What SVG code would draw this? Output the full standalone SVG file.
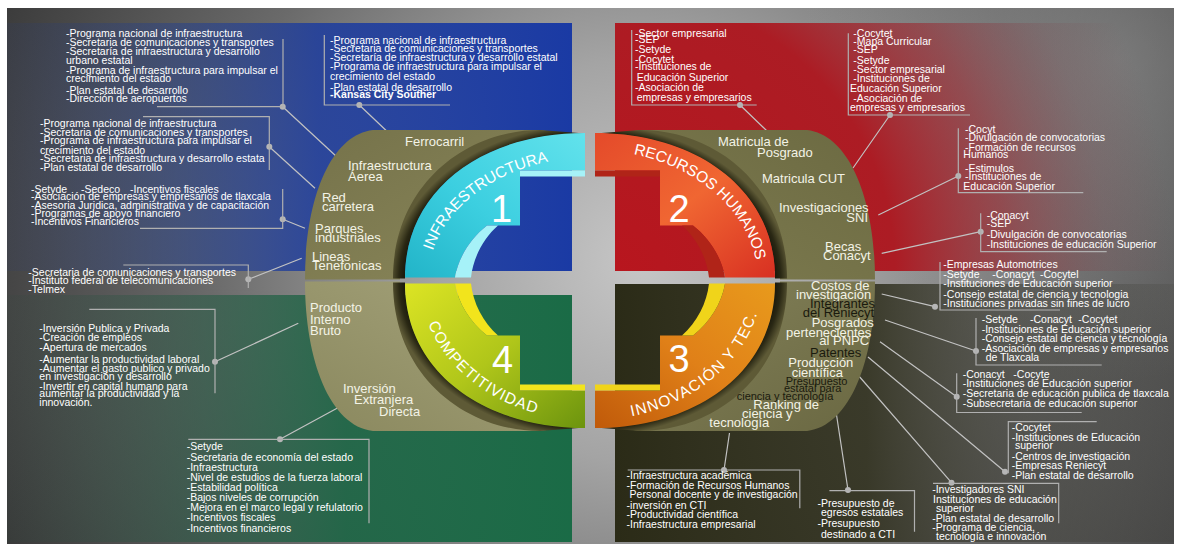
<svg xmlns="http://www.w3.org/2000/svg" width="1180" height="548" viewBox="0 0 1180 548">
<defs>
<style>
.t{font-family:"Liberation Sans",Arial,sans-serif;font-size:10.5px;fill:#fff}
.lb{font-family:"Liberation Sans",Arial,sans-serif;font-size:13px;fill:#f3f3e6}
.dk{fill:#1a1a0e}
.sm{font-size:11px}
.arc{font-family:"Liberation Sans",Arial,sans-serif;font-size:15.5px;fill:#fff}
.num{font-family:"Liberation Sans",Arial,sans-serif;font-size:38px;fill:#fff;text-anchor:middle}
.br{fill:none;stroke:#b0b0b0;stroke-width:1.2}
.cn{fill:none;stroke:#c2c2c2;stroke-width:1.2}
.dot{fill:#b6b6b6}
</style>
<radialGradient id="bg" gradientUnits="userSpaceOnUse" cx="640" cy="260" r="720">
<stop offset="0" stop-color="#c6c6c6"/><stop offset="0.28" stop-color="#a4a4a4"/><stop offset="0.6" stop-color="#6a6a6a"/><stop offset="1" stop-color="#353535"/>
</radialGradient>
<radialGradient id="bgTR" gradientUnits="userSpaceOnUse" cx="1120" cy="60" r="320">
<stop offset="0" stop-color="#a0a0a0" stop-opacity="0.45"/><stop offset="1" stop-color="#a0a0a0" stop-opacity="0"/>
</radialGradient>
<linearGradient id="blueP" x1="0" y1="0" x2="1" y2="0">
<stop offset="0" stop-color="#2a3c70" stop-opacity="0.15"/><stop offset="0.3" stop-color="#24408e" stop-opacity="0.5"/><stop offset="0.55" stop-color="#1d3c9e" stop-opacity="0.85"/><stop offset="1" stop-color="#1a3aa4"/>
</linearGradient>
<radialGradient id="redP" gradientUnits="userSpaceOnUse" cx="615" cy="271" r="560">
<stop offset="0" stop-color="#b8161e"/><stop offset="0.5" stop-color="#ac1c24"/><stop offset="0.7" stop-color="#9a2a32" stop-opacity="0.62"/><stop offset="0.88" stop-color="#804048" stop-opacity="0.2"/><stop offset="1" stop-color="#804048" stop-opacity="0"/>
</radialGradient>
<linearGradient id="greenP" x1="0" y1="0" x2="1" y2="0">
<stop offset="0" stop-color="#2a4a3c" stop-opacity="0.1"/><stop offset="0.35" stop-color="#1e5a40" stop-opacity="0.5"/><stop offset="0.6" stop-color="#1b6544" stop-opacity="0.9"/><stop offset="1" stop-color="#1a6b46"/>
</linearGradient>
<linearGradient id="darkP" x1="0" y1="0" x2="1" y2="0">
<stop offset="0" stop-color="#2b2b17"/><stop offset="0.45" stop-color="#30301e" stop-opacity="0.9"/><stop offset="0.75" stop-color="#383830" stop-opacity="0.45"/><stop offset="1" stop-color="#383830" stop-opacity="0.15"/>
</linearGradient>
<linearGradient id="olUL" x1="0" y1="0" x2="1" y2="1"><stop offset="0" stop-color="#75724a"/><stop offset="1" stop-color="#8a875a"/></linearGradient>
<linearGradient id="olLL" x1="0" y1="0" x2="1" y2="1"><stop offset="0" stop-color="#8a885e"/><stop offset="1" stop-color="#a6a47c"/></linearGradient>
<linearGradient id="olUR" x1="0" y1="0" x2="1" y2="1"><stop offset="0" stop-color="#6c6a42"/><stop offset="1" stop-color="#7e7c50"/></linearGradient>
<linearGradient id="olLR" x1="0" y1="0" x2="1" y2="1"><stop offset="0" stop-color="#6a6842"/><stop offset="1" stop-color="#84825a"/></linearGradient>
<radialGradient id="ring" gradientUnits="userSpaceOnUse" cx="0" cy="0" r="200" gradientTransform="scale(1,0.78)">
<stop offset="0" stop-color="#000"/><stop offset="0.9" stop-color="#0c0c05"/><stop offset="0.955" stop-color="#2a2814"/><stop offset="1" stop-color="#5e5a36"/>
</radialGradient>
<linearGradient id="ribCyan" x1="0" y1="1" x2="1" y2="0"><stop offset="0" stop-color="#22b4c8"/><stop offset="0.45" stop-color="#3ccfe0"/><stop offset="1" stop-color="#62e2ec"/></linearGradient>
<linearGradient id="ribRed" x1="0" y1="1" x2="1" y2="0"><stop offset="0" stop-color="#d83022"/><stop offset="0.5" stop-color="#f06632"/><stop offset="1" stop-color="#e44a2a"/></linearGradient>
<linearGradient id="ribOrange" x1="0" y1="1" x2="1" y2="0"><stop offset="0" stop-color="#e89a1c"/><stop offset="0.5" stop-color="#e08018"/><stop offset="1" stop-color="#c05a0a"/></linearGradient>
<linearGradient id="ribLime" x1="0" y1="1" x2="1" y2="0"><stop offset="0" stop-color="#dce424"/><stop offset="0.5" stop-color="#b0c61a"/><stop offset="1" stop-color="#6c940e"/></linearGradient>
<!-- one quarter of the wheel, drawn around the centre (0,0) -->
<path id="olive" d="M-50,-150.5 L-217,-150.5 C-260,-145.5 -285,-80 -285,-1 L-190,-1 C-190,-90 -120,-149 -40,-149 Z"/>
<path id="crescent" d="M-197,-2 C-197,-95 -125,-150.5 -50,-150.5 L-5,-147 C-108,-147 -185,-90 -185,-2 Z"/>
<path id="face" d="M-185,-3 C-185,-90 -108,-147.5 -5,-147.5 L-5,-110 L-70,-110 L-70,-55 L-103,-55 C-120,-42 -132,-22 -135,-3 Z"/>
<path id="bevel" d="M-135,-3 C-132,-22 -120,-42 -103,-55 L-92,-55 C-107,-42 -117,-22 -119,-3 Z M-70,-110 H-5 V-104 H-70 Z"/>
<path id="pInfra" d="M432.8,250.7 A162,123 0 0 1 584.3,157.6"/>
<path id="pRecursos" d="M633.5,154 A168,131 0 0 1 758,280.5"/>
<path id="pCompet" d="M428.3,323.8 A170,140 0 0 0 590,420.5"/>
<path id="pInnov" d="M631.6,416.3 A172,140 0 0 0 762,280.5"/>
</defs>

<!-- backdrop -->
<g id="backdrop">
<rect width="1180" height="548" fill="url(#bg)"/>
<rect width="1180" height="548" fill="url(#bgTR)"/>
<rect x="7" y="23" width="565" height="248" fill="url(#blueP)"/>
<rect x="615" y="23" width="559" height="248" fill="url(#redP)"/>
<rect x="7" y="295" width="565" height="247" fill="url(#greenP)"/>
<rect x="615" y="284" width="559" height="258" fill="url(#darkP)"/>
<path d="M0,0H1180V8H0Z M0,0H7V548H0Z M0,544H1180V548H0Z M1174,0H1180V548H1174Z" fill="#fff"/>
</g>

<!-- connectors: lines from each list to its label on the wheel -->
<g id="connectors">
<path class="cn" d="M282.7,106.7L337,157 M359.3,105L393,137 M269.3,146.7L315,188.3 M282.7,219.3L305,228.3 M248.3,279.3L301.7,258.3 M215,361.7L298.3,323.3 M280,439.3L343,405 M740,105L767,131 M890,115L853,168 M958.3,176L878.3,215 M980.7,231.7L881.7,253.3 M935,306.7L881.7,294 M976,351L885,320 M956.7,396.7L880,341.7 M1005,471.7L868,357 M951.5,482.7L858,375 M848,490L835,405 M724,470L729.5,433"/>
<g class="dot">
<circle cx="282.7" cy="106.7" r="3"/><circle cx="359.3" cy="105" r="3"/><circle cx="269.3" cy="146.7" r="3"/><circle cx="282.7" cy="219.3" r="3"/><circle cx="248.3" cy="279.3" r="3"/><circle cx="215" cy="361.7" r="3"/><circle cx="280" cy="439.3" r="3"/><circle cx="740" cy="105" r="3"/><circle cx="890" cy="115" r="3"/><circle cx="958.3" cy="176" r="3"/><circle cx="980.7" cy="231.7" r="3"/><circle cx="935" cy="306.7" r="3"/><circle cx="976" cy="351" r="3"/><circle cx="956.7" cy="396.7" r="3"/><circle cx="1005" cy="471.7" r="3"/><circle cx="951.5" cy="482.7" r="3"/><circle cx="848" cy="490" r="3"/><circle cx="724" cy="470" r="3"/>
</g>
</g>

<!-- wheel -->
<g id="wheel">
<use href="#olive" fill="url(#olUL)" transform="translate(590,280.5)"/>
<use href="#olive" fill="url(#olLL)" transform="translate(590,280.5) scale(1,-1)"/>
<use href="#olive" fill="url(#olUR)" transform="translate(590,280.5) scale(-1,1)"/>
<use href="#olive" fill="url(#olLR)" transform="translate(590,280.5) scale(-1,-1)"/>
<use href="#crescent" fill="url(#ring)" transform="translate(590,280.5)"/>
<use href="#crescent" fill="url(#ring)" transform="translate(590,280.5) scale(1,-1)"/>
<use href="#crescent" fill="url(#ring)" transform="translate(590,280.5) scale(-1,1)"/>
<use href="#crescent" fill="url(#ring)" transform="translate(590,280.5) scale(-1,-1)"/>
</g>

<g id="q1-infraestructura">
<use href="#face" fill="url(#ribCyan)" transform="translate(590,280.5)"/>
<use href="#bevel" fill="#a6f2f8" transform="translate(590,280.5)"/>
<text class="arc"><textPath href="#pInfra">INFRAESTRUCTURA</textPath></text>
<text class="num" x="501.5" y="222">1</text>
</g>
<g id="q2-recursos-humanos">
<use href="#face" fill="url(#ribRed)" transform="translate(590,280.5) scale(-1,1)"/>
<use href="#bevel" fill="#b02418" transform="translate(590,280.5) scale(-1,1)"/>
<text class="arc"><textPath href="#pRecursos">RECURSOS HUMANOS</textPath></text>
<text class="num" x="679" y="222">2</text>
</g>
<g id="q3-innovacion">
<use href="#face" fill="url(#ribOrange)" transform="translate(590,280.5) scale(-1,-1)"/>
<use href="#bevel" fill="#f0d41a" transform="translate(590,280.5) scale(-1,-1)"/>
<text class="arc" letter-spacing="1.2"><textPath href="#pInnov">INNOVACIÓN Y TEC.</textPath></text>
<text class="num" x="679" y="372">3</text>
</g>
<g id="q4-competitividad">
<use href="#face" fill="url(#ribLime)" transform="translate(590,280.5) scale(1,-1)"/>
<use href="#bevel" fill="#f2e41c" transform="translate(590,280.5) scale(1,-1)"/>
<text class="arc" letter-spacing="1"><textPath href="#pCompet">COMPETITIVIDAD</textPath></text>
<text class="num" x="502.5" y="373">4</text>
</g>

<!-- labels on the wheel -->
<g id="lbl-ferrocarril"><text class="lb" x="405" y="146">Ferrocarril</text></g>
<g id="lbl-aerea"><text class="lb"><tspan x="348" y="170">Infraestructura</tspan><tspan x="348" y="181">Áerea</tspan></text></g>
<g id="lbl-red"><text class="lb"><tspan x="322" y="201.7">Red</tspan><tspan x="322" y="210.5">carretera</tspan></text></g>
<g id="lbl-parques"><text class="lb"><tspan x="315" y="233">Parques</tspan><tspan x="315" y="241.7">industriales</tspan></text></g>
<g id="lbl-lineas"><text class="lb"><tspan x="312" y="260.7">Lineas</tspan><tspan x="312" y="270">Tenefonicas</tspan></text></g>
<g id="lbl-pib"><text class="lb"><tspan x="310" y="311.7">Producto</tspan><tspan x="310" y="323.5">Interno</tspan><tspan x="310" y="335.3">Bruto</tspan></text></g>
<g id="lbl-ied"><text class="lb"><tspan x="343" y="392.7">Inversión</tspan><tspan x="354" y="404.3">Extranjera</tspan><tspan x="379" y="416">Directa</tspan></text></g>
<g id="lbl-posgrado"><text class="lb"><tspan x="718" y="146">Matricula de</tspan><tspan x="757" y="156.7">Posgrado</tspan></text></g>
<g id="lbl-cut"><text class="lb" x="762" y="182.7">Matricula CUT</text></g>
<g id="lbl-sni"><text class="lb"><tspan x="779" y="211.7">Investigaciones</tspan><tspan x="868" y="221.7" text-anchor="end">SNI</tspan></text></g>
<g id="lbl-becas"><text class="lb"><tspan x="825" y="251">Becas</tspan><tspan x="823" y="260">Conacyt</tspan></text></g>
<g id="lbl-costos"><text class="lb"><tspan x="811" y="290">Costos de</tspan><tspan x="796" y="299">investigación</tspan></text></g>
<g id="lbl-reniecyt"><text class="lb dk"><tspan x="810" y="308">Integrantes</tspan><tspan x="802.7" y="316.7">del Reniecyt</tspan></text></g>
<g id="lbl-pnpc"><text class="lb"><tspan x="811.7" y="327">Posgrados</tspan><tspan x="786" y="336.7">pertenecientes</tspan><tspan x="819.3" y="345.3">al PNPC</tspan></text></g>
<g id="lbl-patentes"><text class="lb dk" x="810" y="357">Patentes</text></g>
<g id="lbl-produccion"><text class="lb"><tspan x="788.3" y="367">Producción</tspan><tspan x="791.7" y="376.7">científica</tspan></text></g>
<g id="lbl-presupuesto"><text class="lb dk sm"><tspan x="785.7" y="385">Presupuesto</tspan><tspan x="784" y="391.5">estatal para</tspan><tspan x="736.7" y="399.7">ciencia y tecnología</tspan></text></g>
<g id="lbl-ranking"><text class="lb"><tspan x="753.3" y="409">Ranking de</tspan><tspan x="742" y="418">ciencia y</tspan><tspan x="709.3" y="427">tecnología</tspan></text></g>

<!-- lists of programmes and actors -->
<g id="list-aerea">
<path class="br" d="M283,39V106.7H157"/>
<text class="t"><tspan x="66" y="37.3">-Programa nacional de infraestructura</tspan><tspan x="66" y="45.7">-Secretaria de comunicaciones y transportes</tspan><tspan x="66" y="55">-Secretaría de infraestructura y desarrollo</tspan><tspan x="66" y="64">urbano estatal</tspan><tspan x="66" y="74">-Programa de infraestructura para impulsar el</tspan><tspan x="66" y="82.3">crecimiento del estado</tspan><tspan x="66" y="93.7">-Plan estatal de desarrollo</tspan><tspan x="66" y="101.7">-Dirección de aeropuertos</tspan></text>
</g>
<g id="list-ferrocarril">
<path class="br" d="M324.3,35V105H450"/>
<text class="t"><tspan x="330" y="44.3">-Programa nacional de infraestructura</tspan><tspan x="330" y="51.7">-Secretaria de comunicaciones y transportes</tspan><tspan x="330" y="61">-Secretaría de infraestructura y desarrollo estatal</tspan><tspan x="330" y="70">-Programa de infraestructura para impulsar el</tspan><tspan x="330" y="80">crecimiento del estado</tspan><tspan x="330" y="91">-Plan estatal de desarrollo</tspan><tspan x="330" y="98.3" font-weight="bold">-Kansas City Souther</tspan></text>
</g>
<g id="list-carretera">
<path class="br" d="M143,116.7H269.3V170"/>
<text class="t"><tspan x="40" y="127.3">-Programa nacional de infraestructura</tspan><tspan x="40" y="135.7">-Secretaria de comunicaciones y transportes</tspan><tspan x="40" y="144.3">-Programa de infraestructura para impulsar el</tspan><tspan x="40" y="154.3">crecimiento del estado</tspan><tspan x="40" y="162.3">-Secretaria de infraestructura y desarrollo estata</tspan><tspan x="40" y="171">-Plan estatal de desarrollo</tspan></text>
</g>
<g id="list-parques">
<path class="br" d="M282.7,189V228.3H140"/>
<text class="t"><tspan x="31" y="192.7">-Setyde</tspan><tspan x="81" y="192.7">-Sedeco</tspan><tspan x="130" y="192.7">-Incentivos fiscales</tspan><tspan x="31" y="200">-Asociación de empresas y empresarios de tlaxcala</tspan><tspan x="31" y="209">-Asesoria Juridica, administrativa y de capacitación</tspan><tspan x="31" y="216.7">-Programas de apoyo financiero</tspan><tspan x="31" y="225">-Incentivos Financieros</tspan></text>
</g>
<g id="list-lineas">
<path class="br" d="M123.3,265H248.3V288"/>
<text class="t"><tspan x="28.3" y="275.7">-Secretaria de comunicaciones y transportes</tspan><tspan x="28.3" y="284.3">-Instituto federal de telecomunicaciones</tspan><tspan x="28.3" y="293.3">-Telmex</tspan></text>
</g>
<g id="list-pib">
<path class="br" d="M89.3,309.3H215V393.3"/>
<text class="t"><tspan x="39.3" y="331.7">-Inversión Publica y Privada</tspan><tspan x="39.3" y="340.7">-Creación de empleos</tspan><tspan x="39.3" y="350.7">-Apertura de mercados</tspan><tspan x="39.3" y="362.7">-Aumentar la productividad laboral</tspan><tspan x="39.3" y="371.7">-Aumentar el gasto publico y privado</tspan><tspan x="39.3" y="380">en investigación y desarrollo</tspan><tspan x="39.3" y="390">-Invertir en capital humano para</tspan><tspan x="39.3" y="397.3">aumentar la productividad y la</tspan><tspan x="39.3" y="405.7">innovación.</tspan></text>
</g>
<g id="list-ied">
<path class="br" d="M188.3,439.3H369V523.3"/>
<text class="t"><tspan x="186.7" y="450">-Setyde</tspan><tspan x="186.7" y="460.7">-Secretaria de economía  del estado</tspan><tspan x="186.7" y="470.7">-Infraestructura</tspan><tspan x="186.7" y="480.7">-Nivel de estudios de la fuerza laboral</tspan><tspan x="186.7" y="491">-Estabilidad política</tspan><tspan x="186.7" y="501">-Bajos niveles de corrupción</tspan><tspan x="186.7" y="511">-Mejora en el marco legal y refulatorio</tspan><tspan x="186.7" y="521">-Incentivos fiscales</tspan><tspan x="186.7" y="531.7">-Incentivos financieros</tspan></text>
</g>
<g id="list-posgrado">
<path class="br" d="M631.7,30V105H756.7"/>
<text class="t"><tspan x="635" y="36.7">-Sector empresarial</tspan><tspan x="635" y="43.3">-SEP</tspan><tspan x="635" y="53.3">-Setyde</tspan><tspan x="635" y="62.7">-Cocytet</tspan><tspan x="635" y="70">-Instituciones de</tspan><tspan x="636.7" y="80.7">Educación Superior</tspan><tspan x="635" y="91">-Asociación de</tspan><tspan x="636.7" y="100.7">empresas y empresarios</tspan></text>
</g>
<g id="list-cut">
<path class="br" d="M848.3,33.3V115H970"/>
<text class="t"><tspan x="853.3" y="36.7">-Cocytet</tspan><tspan x="853.3" y="45">-Mapa Curricular</tspan><tspan x="853.3" y="53.3">-SEP</tspan><tspan x="853.3" y="64">-Setyde</tspan><tspan x="853.3" y="73.3">-Sector empresarial</tspan><tspan x="853.3" y="81.7">-Instituciones de</tspan><tspan x="850" y="91.7">Educación Superior</tspan><tspan x="853.3" y="101.7">-Asociación de</tspan><tspan x="850" y="110.7">empresas y empresarios</tspan></text>
</g>
<g id="list-sni">
<path class="br" d="M958.3,128.3V192.7H1083.3"/>
<text class="t"><tspan x="965" y="133.3">-Cocyt</tspan><tspan x="965" y="141">-Divulgación de convocatorias</tspan><tspan x="965" y="151">-Formación de recursos</tspan><tspan x="963.3" y="157.7">Humanos</tspan><tspan x="965" y="171.7">-Estimulos</tspan><tspan x="965" y="180">-Instituciones de</tspan><tspan x="963.3" y="190">Educación Superior</tspan></text>
</g>
<g id="list-becas">
<path class="br" d="M980.7,213.3V251.7H1106.7"/>
<text class="t"><tspan x="986.7" y="219.3">-Conacyt</tspan><tspan x="986.7" y="227.3">-SEP</tspan><tspan x="986.7" y="237.7">-Divulgación de convocatorias</tspan><tspan x="986.7" y="247.7">-Instituciones de educación Superior</tspan></text>
</g>
<g id="list-costos">
<path class="br" d="M940,262V310H1060"/>
<text class="t"><tspan x="943.3" y="268.3">-Empresas Automotrices</tspan><tspan x="943.3" y="278">-Setyde</tspan><tspan x="992.3" y="278">-Conacyt</tspan><tspan x="1040" y="278">-Cocytel</tspan><tspan x="943.3" y="287.3">-Instituciones de Educación superior</tspan><tspan x="943.3" y="297.7">-Consejo estatal de ciencia y tecnologia</tspan><tspan x="943.3" y="306.7">-Instituciones privadas sin fines de lucro</tspan></text>
</g>
<g id="list-pnpc">
<path class="br" d="M976,318V365H1101.7"/>
<text class="t"><tspan x="981.7" y="323.3">-Setyde</tspan><tspan x="1030" y="323.3">-Conacyt</tspan><tspan x="1078.3" y="323.3">-Cocytet</tspan><tspan x="981.7" y="332.7">-Instituciones de Educación superior</tspan><tspan x="981.7" y="342.3">-Consejo estatal de ciencia y tecnología</tspan><tspan x="981.7" y="351.7">-Asociación de empresas y empresarios</tspan><tspan x="985.7" y="360.7">de Tlaxcala</tspan></text>
</g>
<g id="list-patentes">
<path class="br" d="M956.7,373.3V412.5H1081.7"/>
<text class="t"><tspan x="962.7" y="377.7">-Conacyt</tspan><tspan x="1013.3" y="377.7">-Cocyte</tspan><tspan x="962.7" y="386.7">-Instituciones de Educación superior</tspan><tspan x="962.7" y="396.7">-Secretaria de educación publica de tlaxcala</tspan><tspan x="962.7" y="406.7">-Subsecretaria de educación superior</tspan></text>
</g>
<g id="list-produccion">
<path class="br" d="M1096.7,421.7H1008.3V473.3"/>
<text class="t"><tspan x="1011.7" y="431">-Cocytet</tspan><tspan x="1011.7" y="440.7">-Instituciones de Educación</tspan><tspan x="1015" y="449.3">superior</tspan><tspan x="1011.7" y="460">-Centros de investigación</tspan><tspan x="1011.7" y="469.3">-Empresas Reniecyt</tspan><tspan x="1011.7" y="479">-Plan estatal de desarrollo</tspan></text>
</g>
<g id="list-sni-programa">
<path class="br" d="M933,483.3H1058.7V523.3"/>
<text class="t"><tspan x="932.2" y="493.3">-Investigadores SNI</tspan><tspan x="933" y="502.7">Instituciones de educación</tspan><tspan x="936" y="511.7">superior</tspan><tspan x="932.2" y="521.7">-Plan estatal de desarrollo</tspan><tspan x="932.2" y="530.7">-Programa de ciencia,</tspan><tspan x="936" y="540">tecnología e innovación</tspan></text>
</g>
<g id="list-presupuesto">
<path class="br" d="M829.4,490.7H914.5V531.7"/>
<text class="t"><tspan x="817.5" y="506.7">-Presupuesto de</tspan><tspan x="821" y="516">egresos estatales</tspan><tspan x="817.5" y="526.7">-Presupuesto</tspan><tspan x="821" y="537.7">destinado a CTI</tspan></text>
</g>
<g id="list-ranking">
<path class="br" d="M627.7,470H799.8V508.3"/>
<text class="t"><tspan x="626.6" y="479.3">-Infraestructura académica</tspan><tspan x="626.6" y="489.3">-Formación de Recursos Humanos</tspan><tspan x="629.6" y="498.3">Personal docente y de investigación</tspan><tspan x="626.6" y="509">-inversión en CTI</tspan><tspan x="626.6" y="518.3">-Productividad científica</tspan><tspan x="626.6" y="528.3">-Infraestructura empresarial</tspan></text>
</g>
</svg>
